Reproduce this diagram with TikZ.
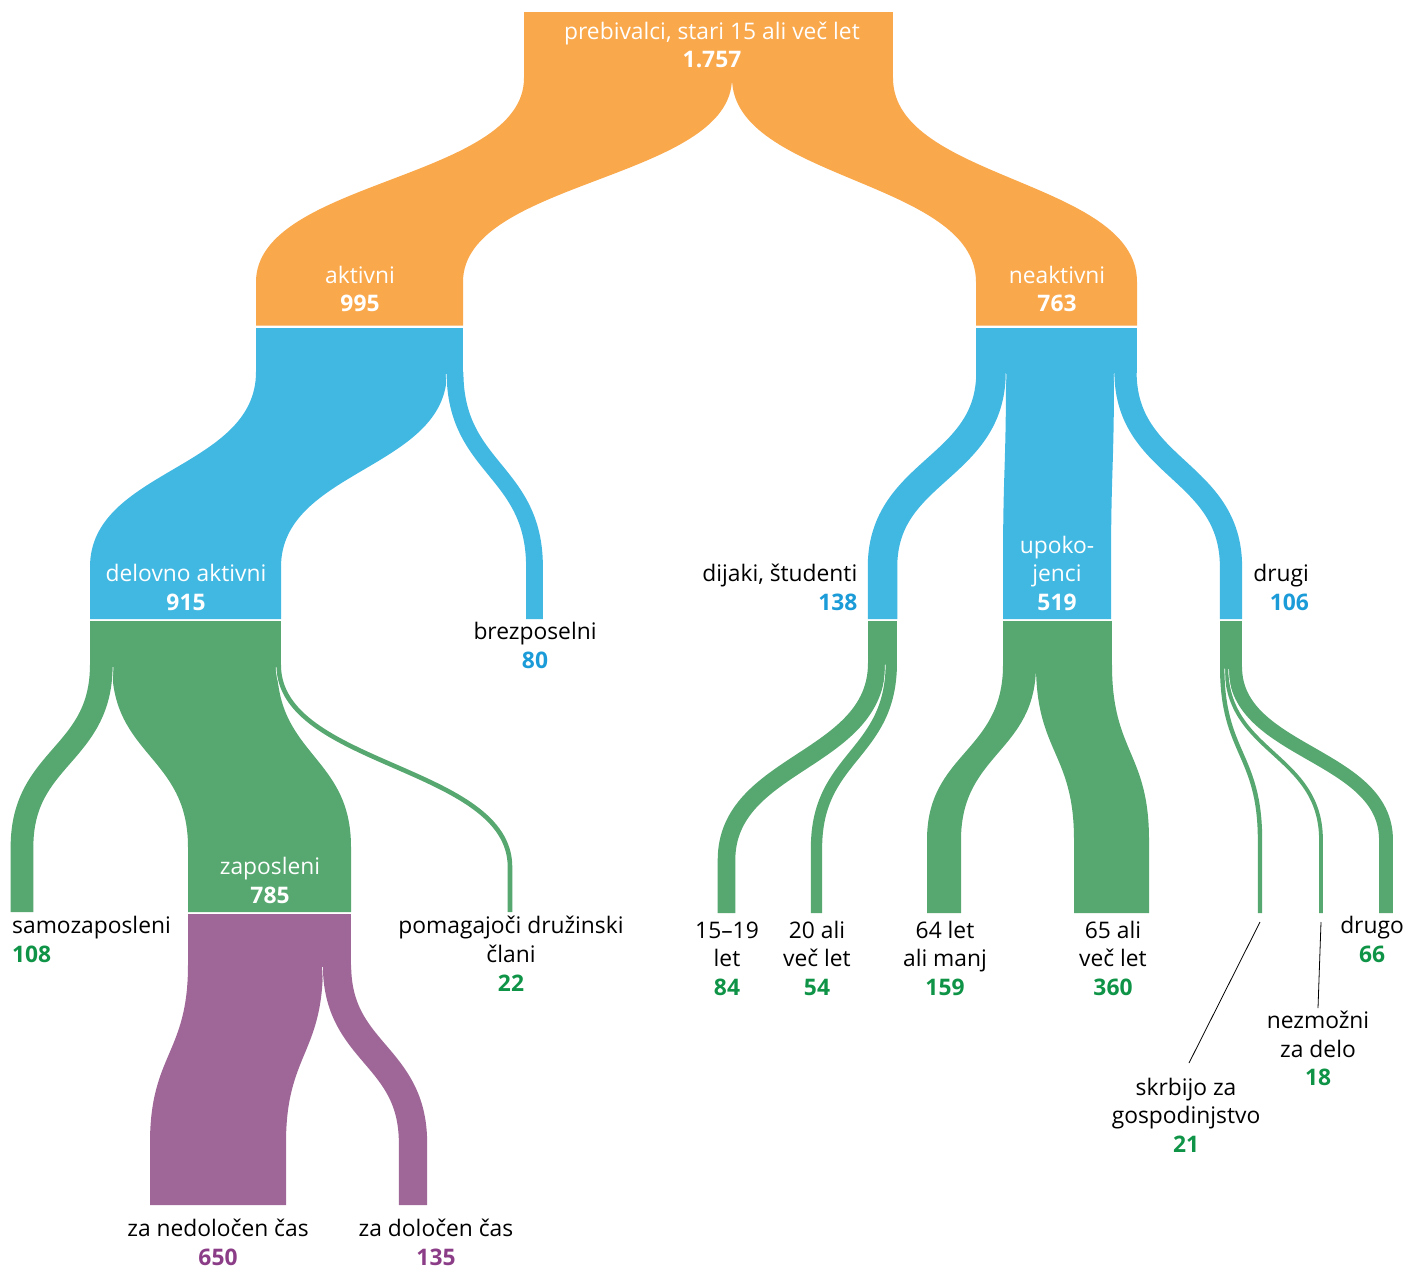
\documentclass[tikz,border=0pt]{standalone}
\usepackage{fontspec}
\setmainfont{Open Sans}
\definecolor{cOr}{HTML}{F9A84B}
\definecolor{cBl}{HTML}{41B8E2}
\definecolor{cGr}{HTML}{56A870}
\definecolor{cPu}{HTML}{9E6797}
\definecolor{tBl}{HTML}{1B9BD7}
\definecolor{tGr}{HTML}{0F9447}
\definecolor{tPu}{HTML}{8C3D87}
\newcommand\labfont{\fontsize{22.8}{28}\selectfont}
% filled band: colour, ytop, ycurve1, ycurve2, ybottom, xa1, xa2, xb1, xb2
\newcommand\bandfill[9]{%
  \fill[#1] (#6,#2) -- (#6,#3) .. controls (#6,{(#3+#4)/2}) and (#8,{(#3+#4)/2}) .. (#8,#4) -- (#8,#5)
    -- (#9,#5) -- (#9,#4) .. controls (#9,{(#3+#4)/2}) and (#7,{(#3+#4)/2}) .. (#7,#3) -- (#7,#2) -- cycle;}
% stroked band with a thin white casing: colour, width, ytop, ycurve1, ycurve2, ybottom, xtop, xbottom
\newcommand\bandline[8]{%
  \begin{scope}
    \clip (-20,{#3+2}) rectangle (1450,1300);
    \draw[white, line width=#2pt+1.4pt] (#7,#4) .. controls (#7,{(#4+#5)/2}) and (#8,{(#4+#5)/2}) .. (#8,#5) -- (#8,#6);
  \end{scope}
  \draw[#1, line width=#2pt] (#7,#4) .. controls (#7,{(#4+#5)/2}) and (#8,{(#4+#5)/2}) .. (#8,#5) -- (#8,#6);}
\tikzset{
  wl/.style={text=white, anchor=base, inner sep=0pt, font=\labfont},
  wn/.style={text=white, anchor=base, inner sep=0pt, font=\labfont\bfseries},
  bl/.style={text=black, anchor=base, inner sep=0pt, font=\labfont},
  nb/.style={text=tBl, anchor=base, inner sep=0pt, font=\labfont\bfseries},
  ng/.style={text=tGr, anchor=base, inner sep=0pt, font=\labfont\bfseries},
  np/.style={text=tPu, anchor=base, inner sep=0pt, font=\labfont\bfseries},
  leader/.style={draw=black, line width=0.8pt},
}
\begin{document}
\begin{tikzpicture}[x=1pt,y=-1pt]
\useasboundingbox (0,0) rectangle (1407,1268);
% ---------- orange ----------
\fill[cOr] (524,12) rectangle (893,79);
\bandfill{cOr}{78}{78}{282}{325.5}{524}{732}{256}{463}
\bandfill{cOr}{78}{78}{282}{325.5}{732}{893}{976}{1137}
% ---------- blue ----------
\fill[cBl] (256,327.5) rectangle (463,373);
\bandfill{cBl}{372}{372}{567}{619}{256}{447}{90}{281}
\bandline{cBl}{16.8}{372}{372}{567}{619}{455}{534.5}
\fill[cBl] (976,327.5) rectangle (1137,373);
\bandfill{cBl}{372}{372}{567}{619}{1006}{1114}{1003}{1111}
\bandline{cBl}{29.5}{372}{372}{567}{619}{991}{882.5}
\bandline{cBl}{22.2}{372}{372}{567}{619}{1125.5}{1231}
% ---------- green ----------
\fill[cGr] (90,621) rectangle (281,666);
\bandfill{cGr}{665}{665}{847}{912}{112}{277}{188}{351}
\bandline{cGr}{22.7}{665}{665}{847}{912}{101.3}{22}
\bandline{cGr}{4.6}{665}{665}{867}{912}{278.7}{510}
\fill[cGr] (868,621) rectangle (897,664);
\bandline{cGr}{17.6}{663}{663}{860}{913}{876.8}{726.5}
\bandline{cGr}{11.3}{663}{663}{848}{913}{891.3}{816.5}
\fill[cGr] (1003,621) rectangle (1112,666);
\bandfill{cGr}{665}{665}{840}{913}{1003}{1036}{927}{961}
\bandfill{cGr}{665}{665}{840}{913}{1036}{1112}{1074}{1149}
\fill[cGr] (1220,621) rectangle (1242,668);
\bandline{cGr}{13.9}{667}{667}{840}{913}{1235.1}{1386}
\bandline{cGr}{3.8}{667}{667}{840}{913}{1226.3}{1321}
\bandline{cGr}{4.4}{667}{667}{840}{913}{1222.2}{1260}
% ---------- purple ----------
\fill[cPu] (188,914) rectangle (351,966);
\bandfill{cPu}{965}{965}{1143}{1205}{188}{323}{150}{286}
\bandline{cPu}{28.3}{965}{965}{1143}{1205}{337}{413}
% ---------- labels ----------
\node[wl] (top1) at (712,40) {prebivalci, stari 15 ali več let};
\node[wn] (top2) at (712,68) {1.757};
\node[wl] (akt1) at (360,283) {aktivni};
\node[wn] (akt2) at (360,311.5) {995};
\node[wl] (nea1) at (1057,283) {neaktivni};
\node[wn] (nea2) at (1057,311.5) {763};
\node[wl] (del1) at (186,581) {delovno aktivni};
\node[wn] (del2) at (186,610) {915};
\node[bl] (brz1) at (535,639.5) {brezposelni};
\node[nb] (brz2) at (535,668) {80};
\node[bl, anchor=base east] (dij1) at (857.5,581) {dijaki, študenti};
\node[nb, anchor=base east] (dij2) at (857.5,610) {138};
\node[wl] (upo1) at (1057,553) {upoko-};
\node[wl] (upo2) at (1057,581.5) {jenci};
\node[wn] (upo3) at (1057,610) {519};
\node[bl, anchor=base east] (dru1) at (1309,581) {drugi};
\node[nb, anchor=base east] (dru2) at (1309,610) {106};
\node[bl, anchor=base west] (sam1) at (12,933) {samozaposleni};
\node[ng, anchor=base west] (sam2) at (12,962) {108};
\node[wl] (zap1) at (270,874) {zaposleni};
\node[wn] (zap2) at (270,903) {785};
\node[bl] (pom1) at (511,933) {pomagajoči družinski};
\node[bl] (pom2) at (511,962) {člani};
\node[ng] (pom3) at (511,991) {22};
\node[bl] (a1) at (727,938) {15–19};
\node[bl] (a2) at (727,966.5) {let};
\node[ng] (a3) at (727,995) {84};
\node[bl] (b1) at (817,938) {20 ali};
\node[bl] (b2) at (817,966.5) {več let};
\node[ng] (b3) at (817,995) {54};
\node[bl] (c1) at (945,938) {64 let};
\node[bl] (c2) at (945,966.5) {ali manj};
\node[ng] (c3) at (945,995) {159};
\node[bl] (d1) at (1113,938) {65 ali};
\node[bl] (d2) at (1113,966.5) {več let};
\node[ng] (d3) at (1113,995) {360};
\node[bl] (e1) at (1372,933) {drugo};
\node[ng] (e2) at (1372,962) {66};
\node[bl] (nz1) at (1318,1028) {nezmožni};
\node[bl] (nz2) at (1318,1057) {za delo};
\node[ng] (nz3) at (1318,1085) {18};
\node[bl] (sk1) at (1186,1095) {skrbijo za};
\node[bl] (sk2) at (1186,1123) {gospodinjstvo};
\node[ng] (sk3) at (1186,1152) {21};
\node[bl] (zn1) at (218,1236) {za nedoločen čas};
\node[np] (zn2) at (218,1265) {650};
\node[bl] (zd1) at (436,1236) {za določen čas};
\node[np] (zd2) at (436,1265) {135};
% ---------- leader lines ----------
\coordinate (skA) at (1260,922);
\coordinate (skB) at (1189,1063);
\coordinate (nzA) at (1321,922);
\coordinate (nzB) at (1318,1008);
\draw[leader] (skA) -- (skB);
\draw[leader] (nzA) -- (nzB);
\end{tikzpicture}
\end{document}
